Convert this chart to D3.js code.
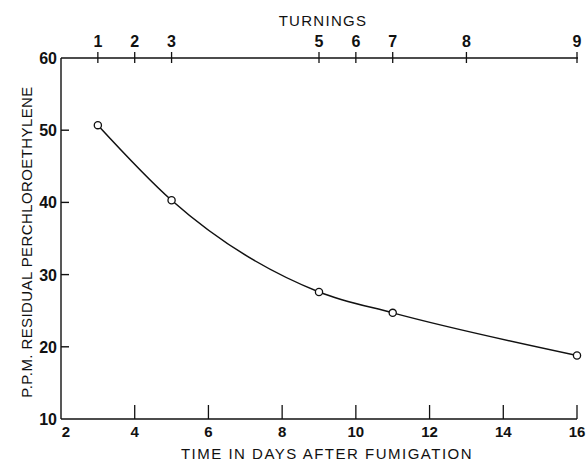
<!DOCTYPE html>
<html>
<head>
<meta charset="utf-8">
<script src="https://cdn.jsdelivr.net/npm/d3@7"></script>
<style>
  body { margin: 0; background: #fff; }
  svg text { font-family: "Liberation Sans", "DejaVu Sans", sans-serif; fill: #111; }
</style>
</head>
<body>
<div id="chart"></div>
<script>
// residual perchloroethylene vs days after fumigation
const days = [3, 5, 9, 11, 16];
const ppm = [50.7, 40.3, 27.6, 24.7, 18.8];

const dayTicks = [2, 4, 6, 8, 10, 12, 14, 16];
const ppmTicks = [10, 20, 30, 40, 50, 60];

// turnings shown on top axis, at the day they happened
const turnings = [1, 2, 3, 5, 6, 7, 8, 9];
const turningDays = [3, 4, 5, 9, 10, 11, 13, 16];

const width = 586, height = 462;
const plotLeft = 61, plotRight = 577, plotTop = 58, plotBottom = 419;

const svg = d3.select('#chart').append('svg')
    .attr('width', width)
    .attr('height', height);

const x = d3.scaleLinear().domain([2, 16]).range([plotLeft, plotRight]);
const y = d3.scaleLinear().domain([10, 60]).range([plotBottom, plotTop]);

// axis lines
svg.append('line')
    .attr('x1', plotLeft).attr('x2', plotLeft)
    .attr('y1', plotTop).attr('y2', plotBottom)
    .attr('stroke', '#111').attr('stroke-width', 1.4);
svg.append('line')
    .attr('x1', plotLeft).attr('x2', plotRight)
    .attr('y1', plotBottom).attr('y2', plotBottom)
    .attr('stroke', '#111').attr('stroke-width', 1.7);
svg.append('line')
    .attr('x1', plotLeft).attr('x2', plotRight + 1)
    .attr('y1', plotTop).attr('y2', plotTop)
    .attr('stroke', '#111').attr('stroke-width', 1.4);

// left ticks (inward)
const yg = svg.append('g');
yg.selectAll('line')
    .data(ppmTicks.filter(d => d > 10 && d < 60))
    .enter().append('line')
    .attr('x1', plotLeft).attr('x2', plotLeft + 8)
    .attr('y1', d => y(d)).attr('y2', d => y(d))
    .attr('stroke', '#111').attr('stroke-width', 1.4);
yg.selectAll('text')
    .data(ppmTicks)
    .enter().append('text')
    .attr('x', plotLeft - 4)
    .attr('y', d => y(d) + 6)
    .attr('text-anchor', 'end')
    .style('font-size', '16px')
    .style('font-weight', 'bold')
    .text(d => d);

// bottom ticks (inward)
const xg = svg.append('g');
xg.selectAll('line')
    .data(dayTicks.filter(d => d > 2))
    .enter().append('line')
    .attr('x1', d => x(d)).attr('x2', d => x(d))
    .attr('y1', plotBottom).attr('y2', plotBottom - 14)
    .attr('stroke', '#111').attr('stroke-width', 1.3);
xg.selectAll('text')
    .data(dayTicks)
    .enter().append('text')
    .attr('x', d => x(d) + (d === 2 ? 5 : 0))
    .attr('y', plotBottom + 18)
    .attr('text-anchor', 'middle')
    .style('font-size', '15px')
    .style('font-weight', 'bold')
    .text(d => d);

// top axis: turnings
const tg = svg.append('g');
tg.selectAll('line')
    .data(turningDays)
    .enter().append('line')
    .attr('x1', d => x(d)).attr('x2', d => x(d))
    .attr('y1', plotTop - 6).attr('y2', plotTop + 5)
    .attr('stroke', '#111').attr('stroke-width', 1.3);
tg.selectAll('text')
    .data(turnings)
    .enter().append('text')
    .attr('x', (d, i) => x(turningDays[i]))
    .attr('y', plotTop - 11)
    .attr('text-anchor', 'middle')
    .style('font-size', '16px')
    .style('font-weight', 'bold')
    .text(d => d);

// axis titles
svg.append('text')
    .attr('x', 323).attr('y', 26)
    .attr('text-anchor', 'middle')
    .style('font-size', '15px')
    .style('letter-spacing', '1.3px')
    .text('TURNINGS');

svg.append('text')
    .attr('x', 327).attr('y', 459)
    .attr('text-anchor', 'middle')
    .style('font-size', '15px')
    .style('letter-spacing', '1.5px')
    .text('TIME IN DAYS AFTER FUMIGATION');

svg.append('text')
    .attr('transform', 'translate(32,242) rotate(-90)')
    .attr('text-anchor', 'middle')
    .style('font-size', '15px')
    .style('letter-spacing', '0.4px')
    .text('P.P.M. RESIDUAL PERCHLOROETHYLENE');

// curve
const pts = days.map((d, i) => [d, ppm[i]]);
svg.append('path')
    .datum(pts)
    .attr('fill', 'none')
    .attr('stroke', '#111')
    .attr('stroke-width', 1.5)
    .attr('d', d3.line()
        .x(d => x(d[0]))
        .y(d => y(d[1]))
        .curve(d3.curveMonotoneX));

svg.selectAll('circle.pt')
    .data(pts)
    .enter().append('circle')
    .attr('class', 'pt')
    .attr('cx', d => x(d[0]))
    .attr('cy', d => y(d[1]))
    .attr('r', 3.6)
    .attr('fill', '#fff')
    .attr('stroke', '#111')
    .attr('stroke-width', 1.3);
</script>
</body>
</html>
